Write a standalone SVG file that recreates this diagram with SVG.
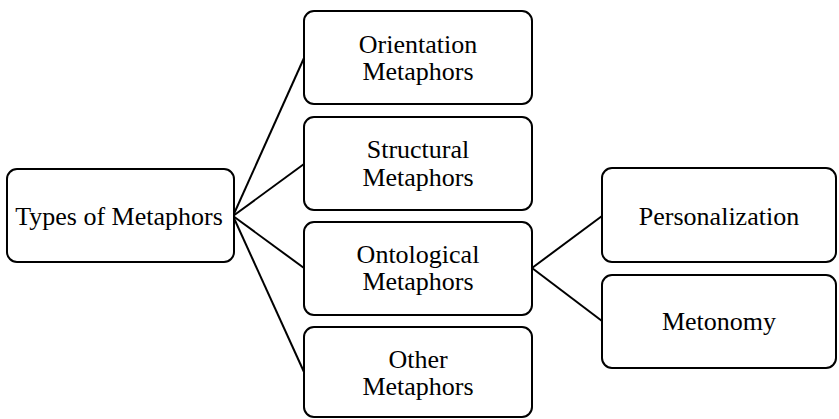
<svg xmlns="http://www.w3.org/2000/svg" width="839" height="419" viewBox="0 0 839 419">
<style>
.box{fill:#fff;stroke:#000;stroke-width:2}
.lbl{font-family:'Liberation Serif','Times New Roman',serif;font-size:26px;fill:#000;text-anchor:middle}
.con{stroke:#000;stroke-width:2;fill:none}
</style>
<rect width="839" height="419" fill="#fff"/>
<g id="connectors">
<line class="con" x1="233" y1="216" x2="304" y2="58"/>
<line class="con" x1="233" y1="216" x2="304" y2="164"/>
<line class="con" x1="233" y1="216" x2="304" y2="268"/>
<line class="con" x1="233" y1="216" x2="304" y2="372"/>
<line class="con" x1="532" y1="268" x2="602" y2="216"/>
<line class="con" x1="532" y1="268" x2="602" y2="321"/>
</g>
<g id="root">
<rect class="box" x="7" y="169" width="227" height="93" rx="10"/>
<text class="lbl" x="119" y="225" font-size="27">Types of Metaphors</text>
</g>
<g id="orientation">
<rect class="box" x="304" y="11" width="228" height="93" rx="10"/>
<text class="lbl" x="418" y="53">Orientation</text>
<text class="lbl" x="418" y="80">Metaphors</text>
</g>
<g id="structural">
<rect class="box" x="304" y="117" width="228" height="93" rx="10"/>
<text class="lbl" x="418" y="158">Structural</text>
<text class="lbl" x="418" y="186">Metaphors</text>
</g>
<g id="ontological">
<rect class="box" x="304" y="222" width="228" height="93" rx="10"/>
<text class="lbl" x="418" y="263">Ontological</text>
<text class="lbl" x="418" y="290">Metaphors</text>
</g>
<g id="other">
<rect class="box" x="304" y="327" width="228" height="90" rx="10"/>
<text class="lbl" x="418" y="368">Other</text>
<text class="lbl" x="418" y="395">Metaphors</text>
</g>
<g id="personalization">
<rect class="box" x="602" y="168" width="234" height="94" rx="10"/>
<text class="lbl" x="719" y="225">Personalization</text>
</g>
<g id="metonomy">
<rect class="box" x="602" y="275" width="234" height="93" rx="10"/>
<text class="lbl" x="719" y="330">Metonomy</text>
</g>
</svg>
